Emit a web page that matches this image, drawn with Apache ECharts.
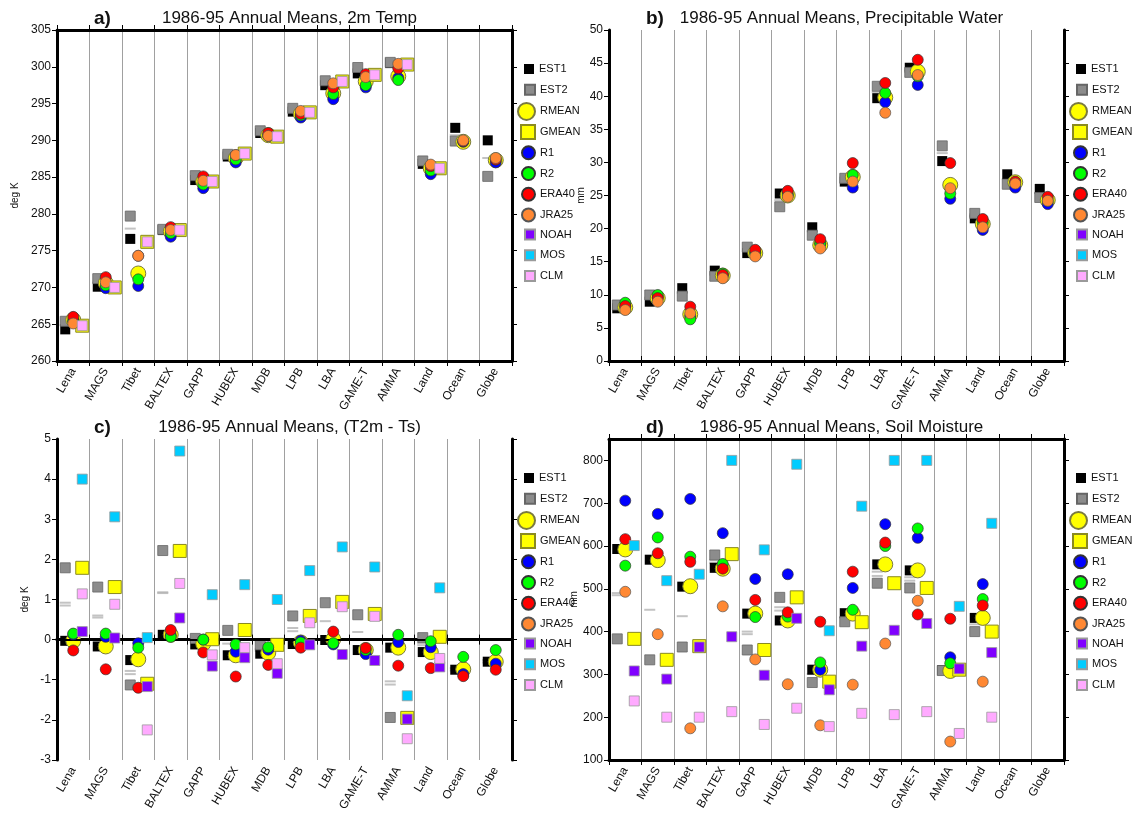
<!DOCTYPE html>
<html><head><meta charset="utf-8">
<script src="https://cdn.jsdelivr.net/npm/echarts@6/dist/echarts.min.js"></script>
<style>html,body{margin:0;padding:0;background:#fff}#c{width:1133px;height:814px}</style>
</head><body><div id="c"></div><script>
const categories = ['Lena','MAGS','Tibet','BALTEX','GAPP','HUBEX','MDB','LPB','LBA','GAME-T','AMMA','Land','Ocean','Globe'];

// Panel a: 2m Temp (deg K)
const A_EST1  = [264.3,270.1,276.6,277.8,284.6,287.8,291.0,293.9,297.5,299.1,300.5,286.8,291.7,290.0];
const A_EST2  = [265.4,271.2,279.7,277.9,285.2,288.1,291.3,294.35,298.1,299.9,300.6,287.2,289.9,285.1];
const A_RMEAN = [265.6,270.6,271.9,277.6,284.4,287.6,290.7,293.6,296.4,298.0,298.7,286.2,289.8,287.3];
const A_GMEAN = [264.8,270.0,276.2,277.8,284.4,288.2,290.5,293.8,298.0,298.9,300.3,286.2,null,null];
const A_R1    = [265.4,269.9,270.2,276.9,283.5,287.0,290.6,293.1,295.6,297.2,298.5,285.4,289.8,287.0];
const A_R2    = [265.5,270.3,271.1,277.4,284.0,287.4,290.7,293.4,296.3,297.5,298.2,285.9,289.9,287.4];
const A_ERA40 = [266.0,271.4,274.3,278.2,285.1,288.0,291.0,293.6,297.2,299.0,299.8,286.5,289.9,287.4];
const A_JRA25 = [265.1,270.7,274.3,277.8,284.5,288.0,290.6,294.0,297.75,298.6,300.4,286.7,290.0,287.6];
const A_CLM   = [264.8,270.0,276.2,277.8,284.4,288.2,290.5,293.8,298.0,298.9,300.3,286.2,null,null];
const A_DASH1 = [264.9,null,278.0,null,null,null,null,null,null,null,null,null,290.7,287.6];

// Panel b: Precipitable Water (mm)
const B_EST1  = [7.96,8.96,11.0,13.65,16.3,25.3,20.2,27.1,39.7,44.3,30.2,21.55,28.2,26.0];
const B_EST2  = [8.46,9.97,9.8,12.8,17.2,23.3,19.0,27.6,41.5,43.6,32.5,22.3,26.7,24.7];
const B_RMEAN = [8.1,9.5,7.05,12.9,16.3,25.0,17.5,27.8,39.8,43.7,26.6,20.7,27.0,24.3];
const B_R1    = [8.2,9.6,6.8,12.9,16.3,25.0,17.7,26.2,39.1,41.7,24.5,19.8,26.2,23.7];
const B_R2    = [8.8,9.97,6.3,13.2,16.4,25.2,17.8,28.1,40.5,43.0,25.3,20.9,27.0,24.2];
const B_ERA40 = [8.3,9.5,8.2,13.0,16.8,25.7,18.4,29.9,42.0,45.5,29.9,21.45,27.1,24.8];
const B_JRA25 = [7.7,8.96,7.2,12.5,15.8,24.8,17.0,27.1,37.5,43.2,26.1,20.2,26.8,24.2];
const B_DASH1 = [null,null,10.3,null,null,24.3,19.6,null,40.6,43.9,31.4,21.9,27.5,25.4];

// Panel c: (T2m - Ts) (deg K)
const C_EST1  = [-0.03,-0.17,-0.51,0.12,-0.12,-0.39,-0.35,-0.11,-0.01,-0.26,-0.2,-0.31,-0.75,-0.55];
const C_EST2  = [1.79,1.31,-1.13,2.22,0.03,0.23,-0.13,0.59,0.92,0.62,-1.94,0.05,null,null];
const C_RMEAN = [-0.03,-0.17,-0.49,0.12,-0.1,-0.39,-0.33,-0.07,0.01,-0.26,-0.2,-0.31,-0.74,-0.55];
const C_GMEAN = [1.79,1.31,-1.1,2.21,0.01,0.24,-0.13,0.59,0.94,0.64,-1.95,0.07,null,null];
const C_R1    = [0.13,0.07,-0.09,0.1,0.0,-0.3,-0.25,-0.03,-0.12,-0.36,-0.06,-0.19,-0.86,-0.6];
const C_R2    = [0.15,0.15,-0.2,0.07,0.0,-0.12,-0.19,-0.07,-0.09,-0.26,0.12,-0.04,-0.43,-0.26];
const C_ERA40 = [-0.27,-0.74,-1.2,0.24,-0.32,-0.92,-0.63,-0.2,0.2,-0.21,-0.65,-0.71,-0.91,-0.75];
const C_NOAH  = [0.2,0.04,-1.17,0.54,-0.66,-0.45,-0.84,-0.13,-0.37,-0.52,-1.98,-0.68,null,null];
const C_MOS   = [4.0,3.06,0.05,4.7,1.12,1.37,1.0,1.72,2.31,1.81,-1.4,1.29,null,null];
const C_CLM   = [1.14,0.88,-2.25,1.4,-0.38,-0.2,-0.6,0.42,0.82,0.58,-2.47,-0.47,null,null];
const C_DASH1 = [0.92,0.6,-0.78,1.18,null,-0.1,-0.24,0.29,0.46,0.19,-1.04,-0.09,-0.71,-0.51];
const C_DASH2 = [0.85,0.55,-0.86,1.16,null,null,-0.28,0.21,null,null,-1.12,-0.14,-0.77,-0.57];

// Panel d: Soil Moisture (mm)
const D_EST1  = [593,568,505,549,442,426,311,443,557,543,310,432,null,null];
const D_EST2  = [383,334,364,579,357,480,281,423,513,502,309,400,null,null];
const D_RMEAN = [592,567,506,547,442,426,311,442,557,543,308,432,null,null];
const D_GMEAN = [383,334,366,581,357,480,283,422,513,502,311,400,null,null];
const D_R1    = [706,675,710,630,523,534,311,502,651,619,340,511,null,null];
const D_R2    = [554,620,575,558,434,435,328,451,600,641,326,476,null,null];
const D_ERA40 = [616,583,563,547,474,445,423,540,608,440,430,461,null,null];
const D_JRA25 = [493,394,174,459,335,277,181,276,372,472,143,283,null,null];
const D_NOAH  = [308,289,364,388,298,431,264,366,403,419,313,351,null,null];
const D_MOS   = [601,519,534,800,591,791,402,693,800,800,459,653,null,null];
const D_CLM   = [238,200,200,213,183,221,178,209,206,213,162,200,null,null];
const D_DASH1 = [490,451,436,567,400,457,301,433,540,527,null,417,null,null];
const D_DASH2 = [485,null,null,561,394,449,null,null,530,519,null,null,null,null];

const STY = {
  EST1:  {symbol:'rect',  size:10, color:'#000000', border:'#000000', bw:0,   off:-8},
  EST2:  {symbol:'rect',  size:10, color:'#8c8c8c', border:'#666666', bw:0.8, off:-8},
  RMEAN: {symbol:'circle',size:15, color:'#ffff00', border:'#7a7a40', bw:1,   off:0},
  GMEAN: {symbol:'rect',  size:13, color:'#ffff00', border:'#8a8a20', bw:1,   off:9},
  R1:    {symbol:'circle',size:11, color:'#0000ff', border:'#333333', bw:0.7, off:0},
  R2:    {symbol:'circle',size:11, color:'#00ff00', border:'#333333', bw:0.7, off:0},
  ERA40: {symbol:'circle',size:11, color:'#ff0000', border:'#333333', bw:0.7, off:0},
  JRA25: {symbol:'circle',size:11, color:'#ff8833', border:'#555555', bw:0.7, off:0},
  NOAH:  {symbol:'rect',  size:10, color:'#8000ff', border:'#9a9a9a', bw:0.8, off:9},
  MOS:   {symbol:'rect',  size:10, color:'#00ccff', border:'#9a9a9a', bw:0.8, off:9},
  CLM:   {symbol:'rect',  size:10, color:'#ffaaff', border:'#9a9a9a', bw:0.8, off:9}
};
const LEG = [['EST1','rect',10],['EST2','rect',10],['RMEAN','circle',17],['GMEAN','rect',14],['R1','circle',13],['R2','circle',13],['ERA40','circle',13],['JRA25','circle',13],['NOAH','rect',10],['MOS','rect',10],['CLM','rect',10]];

const PANELS = [
  {tag:'a)', title:'1986-95 Annual Means, 2m Temp', left:57, top:30, min:260, max:305, interval:5, yname:'deg K', nameGap:37,
   data:{EST1:A_EST1,EST2:A_EST2,RMEAN:A_RMEAN,GMEAN:A_GMEAN,R1:A_R1,R2:A_R2,ERA40:A_ERA40,JRA25:A_JRA25,CLM:A_CLM}, dash:[A_DASH1]},
  {tag:'b)', title:'1986-95 Annual Means, Precipitable Water', left:609, top:30, min:0, max:50, interval:5, yname:'mm', nameGap:23,
   data:{EST1:B_EST1,EST2:B_EST2,RMEAN:B_RMEAN,R1:B_R1,R2:B_R2,ERA40:B_ERA40,JRA25:B_JRA25}, dash:[B_DASH1]},
  {tag:'c)', title:'1986-95 Annual Means, (T2m - Ts)', left:57, top:439, min:-3, max:5, interval:1, yname:'deg K', nameGap:27, zero:true,
   data:{EST1:C_EST1,EST2:C_EST2,RMEAN:C_RMEAN,GMEAN:C_GMEAN,R1:C_R1,R2:C_R2,ERA40:C_ERA40,NOAH:C_NOAH,MOS:C_MOS,CLM:C_CLM}, dash:[C_DASH1,C_DASH2]},
  {tag:'d)', title:'1986-95 Annual Means, Soil Moisture', left:609, top:439, min:100, max:850, interval:100, yname:'mm', nameGap:23, hideMax:true,
   data:{EST1:D_EST1,EST2:D_EST2,RMEAN:D_RMEAN,GMEAN:D_GMEAN,R1:D_R1,R2:D_R2,ERA40:D_ERA40,JRA25:D_JRA25,NOAH:D_NOAH,MOS:D_MOS,CLM:D_CLM}, dash:[D_DASH1,D_DASH2]}
];
const W = 455, H = 331;
const FONT = 'Liberation Sans, Arial, Helvetica, sans-serif';

const grid = [], xAxis = [], yAxis = [], series = [], title = [], legend = [];
PANELS.forEach((P, p) => {
  grid.push({left:P.left, top:P.top, width:W, height:H});
  const xBase = {type:'category', gridIndex:p, data:categories, boundaryGap:true,
    axisLine:{show:true, lineStyle:{color:'#000', width:3}},
    axisTick:{show:true, interval:0, length:5, lineStyle:{color:'#000', width:1}}};
  xAxis.push(Object.assign({}, xBase, {position:'bottom',
    axisLabel:{interval:0, rotate:60, fontSize:12, color:'#111', margin:8, fontFamily:FONT},
    splitLine:{show:true, interval:0, lineStyle:{color:'#a0a0a0', width:1}}}));
  xAxis.push(Object.assign({}, xBase, {position:'top', axisLabel:{show:false}, splitLine:{show:false}}));
  const yBase = {type:'value', gridIndex:p, min:P.min, max:P.max, interval:P.interval,
    axisLine:{show:true, lineStyle:{color:'#000', width:3}},
    axisTick:{show:true, length:5, lineStyle:{color:'#000', width:1}}, splitLine:{show:false}};
  yAxis.push(Object.assign({}, yBase, {position:'left',
    axisLabel:{fontSize:12, color:'#111', margin:6, fontFamily:FONT, showMaxLabel: P.hideMax ? false : true},
    name:P.yname, nameLocation:'middle', nameRotate:90, nameGap:P.nameGap, nameTextStyle:{fontSize:10, color:'#111', fontFamily:FONT}}));
  yAxis.push(Object.assign({}, yBase, {position:'right', axisLabel:{show:false}}));

  P.dash.forEach((arr, k) => {
    series.push({type:'scatter', name:'_dash'+k, xAxisIndex:p*2, yAxisIndex:p*2, data:arr,
      symbol:'rect', symbolSize:[11,2], symbolOffset:[-8,0], itemStyle:{color:'#b4b4b4'}, z:1, silent:true});
  });
  let first = true;
  Object.keys(STY).forEach((name, i) => {
    const arr = P.data[name];
    if (!arr) return;
    const s = STY[name];
    const ser = {type:'scatter', name, xAxisIndex:p*2, yAxisIndex:p*2, data:arr,
      symbol:s.symbol, symbolSize:s.size, symbolOffset:[s.off,0],
      itemStyle:{color:s.color, borderColor:s.border, borderWidth:s.bw, opacity:1}, z:2+i, silent:true};
    if (first && P.zero) {
      ser.markLine = {silent:true, symbol:'none', label:{show:false}, animation:false,
        lineStyle:{color:'#000', width:2, type:'solid'}, data:[{yAxis:0}]};
    }
    first = false;
    series.push(ser);
  });

  title.push({text:P.tag, left:P.left + 32, top:P.top - 26, textStyle:{fontSize:19, fontWeight:'bold', color:'#111', fontFamily:FONT}});
  title.push({text:P.title, left:P.left + W/2, textAlign:'center', top:P.top - 25, textStyle:{fontSize:17, fontWeight:'normal', color:'#111', fontFamily:FONT}});

  const textX = P.left + W + 27;
  const cy0 = P.top + 39;
  LEG.forEach((L, i) => {
    const size = L[2];
    const cy = cy0 + i * 20.7;
    const h = Math.max(size, 13);
    legend.push({orient:'vertical', left:textX - 5 - size, top:cy - h/2, padding:0, itemGap:0,
      itemWidth:size, itemHeight:size, selectedMode:false,
      data:[{name:L[0], icon:L[1]}],
      textStyle:{fontSize:11, color:'#111', lineHeight:13, fontFamily:FONT}});
  });
});

const chart = echarts.init(document.getElementById('c'), null, {renderer:'canvas'});
chart.setOption({animation:false, backgroundColor:'#fff', textStyle:{fontFamily:FONT},
  grid, xAxis, yAxis, series, title, legend, tooltip:{show:false}});
</script></body></html>
